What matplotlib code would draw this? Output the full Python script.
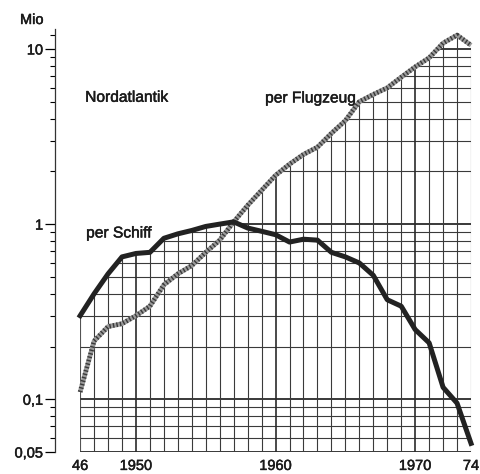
import matplotlib
matplotlib.use("Agg")
import matplotlib.pyplot as plt
import matplotlib.patheffects as pe
from matplotlib.patches import Polygon
import numpy as np

plt.rcParams["font.family"] = ["Liberation Sans", "DejaVu Sans"]

# Passagiere über den Nordatlantik (Mio)
years = list(range(1946, 1975))
ship = [0.30, 0.40, 0.52, 0.65, 0.68, 0.69, 0.83, 0.88, 0.92, 0.97,
        1.00, 1.03, 0.95, 0.91, 0.87, 0.79, 0.82, 0.81, 0.69, 0.65,
        0.60, 0.51, 0.37, 0.34, 0.25, 0.21, 0.117, 0.095, 0.056]
plane = [0.11, 0.215, 0.26, 0.27, 0.30, 0.34, 0.45, 0.52, 0.58, 0.69,
         0.81, 1.03, 1.28, 1.56, 1.9, 2.2, 2.5, 2.75, 3.3, 3.9,
         5.0, 5.5, 6.0, 6.9, 7.9, 8.9, 10.8, 12.0, 10.5]

x_ticks = [1946, 1950, 1960, 1970, 1974]
x_labels = ["46", "1950", "1960", "1970", "74"]
y_major = [0.05, 0.1, 1, 10]
y_labels = ["0,05", "0,1", "1", "10"]

fig = plt.figure(figsize=(4.81, 4.74), dpi=100)
ax = fig.add_axes([55 / 481, 22 / 474, 0.8765, 0.8924])
ax.set_yscale("log")
ax.set_xlim(1944.2, 1974.4)
ax.set_ylim(0.05, 13)

# grid only below the upper curve
upper = np.maximum(ship, plane)
verts = [(years[0], 0.05)] + list(zip(years, upper)) + [(years[-1], 0.05)]
clip = Polygon(verts, closed=True, transform=ax.transData,
               facecolor="none", edgecolor="none")
ax.add_patch(clip)

h_minor = [d * m for d in (0.01, 0.1, 1) for m in range(2, 10) if d * m > 0.045]
h_minor = [v for v in h_minor if v not in (0.1, 1)]
hl = ax.hlines(h_minor, years[0], years[-1], color="#3a3a3a", lw=0.8)
hl2 = ax.hlines([0.05, 0.1, 1, 10], years[0], years[-1], color="#2a2a2a", lw=1.3)
v_minor = [y for y in years if y not in (1950, 1960, 1970)]
vl = ax.vlines(v_minor, 0.05, 13, color="#3a3a3a", lw=0.8)
vl2 = ax.vlines([1950, 1960, 1970], 0.05, 13, color="#2a2a2a", lw=1.2)
for c in (hl, hl2, vl, vl2):
    c.set_clip_path(clip)

# Flugzeug: gestrichelte graue Linie
ax.plot(years, plane, color="#9a9a9a", lw=3.4, solid_capstyle="butt", zorder=3)
ax.plot(years, plane, color="#3a3a3a", lw=3.4, dashes=(0.3, 0.45),
        dash_capstyle="butt", zorder=4)
# Schiff: dicke schwarze Linie
ax.plot(years, ship, color="#222222", lw=3.6, solid_joinstyle="round", zorder=5)

for s in ("top", "right", "bottom"):
    ax.spines[s].set_visible(False)
ax.spines["left"].set_linewidth(0.9)
ax.spines["left"].set_color("#333333")

ax.set_xticks(x_ticks)
ax.set_xticklabels(x_labels, fontsize=10.5)
ax.tick_params(axis="x", length=0, pad=5)

ax.set_yticks(y_major)
ax.set_yticklabels(y_labels, fontsize=10.5)
ax.set_yticks(h_minor + [12], minor=True)
ax.yaxis.set_minor_formatter(matplotlib.ticker.NullFormatter())
ax.tick_params(axis="y", which="major", length=7.5, width=0.9, pad=1)
ax.tick_params(axis="y", which="minor", length=3.5, width=0.8)

txts = [
    ax.text(1946.36, 5.3, "Nordatlantik", fontsize=11.2, va="center", ha="left"),
    ax.text(1959.25, 5.25, "per Flugzeug", fontsize=11.2, va="center", ha="left"),
    ax.text(1946.43, 0.89, "per Schiff", fontsize=11.2, va="center", ha="left"),
    fig.text(20 / 481, 1 - 20 / 474, "Mio", fontsize=10.5, va="center", ha="left"),
]

# etwas kräftigere Schrift wie im Original
heavy = [pe.withStroke(linewidth=0.35, foreground="#1a1a1a")]
for t in txts + ax.get_xticklabels() + ax.get_yticklabels():
    t.set_color("#1a1a1a")
    t.set_path_effects(heavy)

fig.savefig("out.png", dpi=100)
